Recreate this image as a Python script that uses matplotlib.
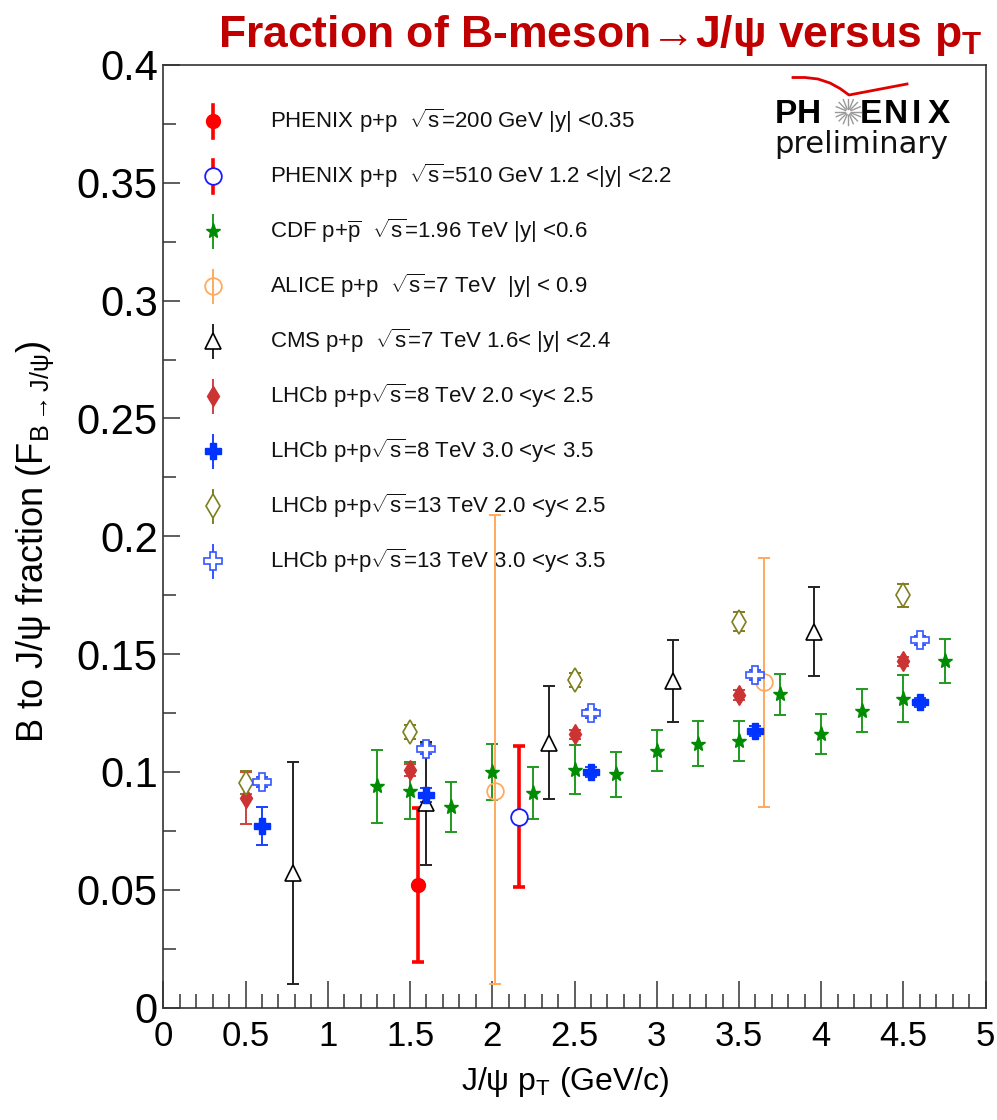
import numpy as np
import matplotlib
matplotlib.use('Agg')
import matplotlib.pyplot as plt
from matplotlib.lines import Line2D
from matplotlib.ticker import MultipleLocator, FuncFormatter

plt.rcParams['font.family'] = ['Liberation Sans', 'DejaVu Sans']
plt.rcParams['mathtext.fontset'] = 'custom'
plt.rcParams['mathtext.rm'] = 'Liberation Sans'
plt.rcParams['mathtext.it'] = 'Liberation Sans:italic'
plt.rcParams['mathtext.bf'] = 'Liberation Sans:bold'

# ---- data ----
phx200_pt = [1.55]
phx200_f = [0.052]
phx200_err = [0.0325]

phx510_pt = [2.165]
phx510_f = [0.081]
phx510_err = [0.030]

cdf_pt = [1.3, 1.5, 1.75, 2.0, 2.25, 2.5, 2.75, 3.0, 3.25, 3.5, 3.75, 4.0, 4.25, 4.5, 4.75]
cdf_f = [0.094, 0.092, 0.085, 0.100, 0.091, 0.101, 0.099, 0.109, 0.112, 0.113,
         0.133, 0.116, 0.126, 0.131, 0.147]
cdf_err = [0.0155, 0.012, 0.0107, 0.012, 0.011, 0.0105, 0.0095, 0.0086, 0.0095,
           0.0085, 0.0087, 0.0086, 0.009, 0.010, 0.0094]

alice_pt = [2.016, 3.652]
alice_f = [0.092, 0.138]
alice_lo = [0.082, 0.0527]
alice_hi = [0.117, 0.0527]

cms_pt = [0.786, 1.595, 2.345, 3.097, 3.958]
cms_f = [0.057, 0.0866, 0.1124, 0.1387, 0.1595]
cms_err = [0.047, 0.026, 0.024, 0.0174, 0.019]

lhcb8a_pt = [0.5, 1.5, 2.5, 3.5, 4.5]
lhcb8a_f = [0.0888, 0.1008, 0.1159, 0.1327, 0.1469]
lhcb8a_err = [0.011, 0.0025, 0.002, 0.002, 0.002]

lhcb8b_pt = [0.6, 1.6, 2.6, 3.6, 4.6]
lhcb8b_f = [0.0771, 0.0902, 0.1000, 0.1173, 0.1295]
lhcb8b_err = [0.008, 0.003, 0.002, 0.002, 0.002]

lhcb13a_pt = [0.5, 1.5, 2.5, 3.5, 4.5]
lhcb13a_f = [0.0955, 0.117, 0.1389, 0.1638, 0.1749]
lhcb13a_err = [0.005, 0.003, 0.003, 0.004, 0.005]

lhcb13b_pt = [0.6, 1.6, 2.6, 3.6, 4.6]
lhcb13b_f = [0.0958, 0.1098, 0.1248, 0.1411, 0.1558]
lhcb13b_err = [0.002, 0.002, 0.002, 0.002, 0.002]

labels = [
    r'PHENIX p+p  $\sqrt{\mathrm{s}}$=200 GeV |y| <0.35',
    r'PHENIX p+p  $\sqrt{\mathrm{s}}$=510 GeV 1.2 <|y| <2.2',
    r'CDF p+$\overline{\mathrm{p}}$  $\sqrt{\mathrm{s}}$=1.96 TeV |y| <0.6',
    r'ALICE p+p  $\sqrt{\mathrm{s}}$=7 TeV  |y| < 0.9',
    r'CMS p+p  $\sqrt{\mathrm{s}}$=7 TeV 1.6< |y| <2.4',
    r'LHCb p+p$\sqrt{\mathrm{s}}$=8 TeV 2.0 <y< 2.5',
    r'LHCb p+p$\sqrt{\mathrm{s}}$=8 TeV 3.0 <y< 3.5',
    r'LHCb p+p$\sqrt{\mathrm{s}}$=13 TeV 2.0 <y< 2.5',
    r'LHCb p+p$\sqrt{\mathrm{s}}$=13 TeV 3.0 <y< 3.5',
]

# series: x, y, [lo, hi], marker style, error colour, error width
series = [
    (phx200_pt, phx200_f, [phx200_err, phx200_err],
     dict(marker='o', ms=10, mfc='#ff0000', mec='#ff0000'), '#ff0000', 2.6),
    (phx510_pt, phx510_f, [phx510_err, phx510_err],
     dict(marker='o', ms=12, mfc='white', mec='#1a1aff', mew=1.3), '#ff0000', 2.6),
    (cdf_pt, cdf_f, [cdf_err, cdf_err],
     dict(marker='*', ms=11, mfc='#008c00', mec='#008c00'), '#1f9a1f', 1.4),
    (alice_pt, alice_f, [alice_lo, alice_hi],
     dict(marker='o', ms=12, mfc='none', mec='#ffaa5e', mew=1.3), '#ffaa5e', 1.4),
    (cms_pt, cms_f, [cms_err, cms_err],
     dict(marker='^', ms=12, mfc='white', mec='black', mew=1.2), '#222222', 1.4),
    (lhcb8a_pt, lhcb8a_f, [lhcb8a_err, lhcb8a_err],
     dict(marker='d', ms=10, mfc='#cc3333', mec='#cc3333'), '#d04040', 1.4),
    (lhcb8b_pt, lhcb8b_f, [lhcb8b_err, lhcb8b_err],
     dict(marker='P', ms=11, mfc='#0033ff', mec='#0033ff'), '#1a40ff', 1.4),
    (lhcb13a_pt, lhcb13a_f, [lhcb13a_err, lhcb13a_err],
     dict(marker='d', ms=12, mfc='white', mec='#7f7f1f', mew=1.2), '#7f7f1f', 1.4),
    (lhcb13b_pt, lhcb13b_f, [lhcb13b_err, lhcb13b_err],
     dict(marker='P', ms=13, mfc='white', mec='#3355ff', mew=1.2), '#3355ff', 1.4),
]

fig = plt.figure(figsize=(9.97, 11.2), dpi=100)
ax = fig.add_axes([0.1638, 0.1004, 0.8249, 0.8416])

for i, (x, y, err, mk, ecol, elw) in enumerate(series):
    ax.errorbar(x, y, yerr=err, fmt='none', ecolor=ecol, elinewidth=elw,
                capsize=4, capthick=elw, zorder=2 + i)
    ax.plot(x, y, linestyle='none', zorder=12 + i, **mk)

# legend drawn ROOT style (vertical bar through the marker, no caps)
for i, (x, y, err, mk, ecol, elw) in enumerate(series):
    yy = 0.9405 - i * 0.05836
    ax.plot([0.0604, 0.0604], [yy - 0.0175, yy + 0.0175], transform=ax.transAxes,
            color=ecol, lw=elw, zorder=30)
    ax.plot([0.0604], [yy], transform=ax.transAxes, linestyle='none', zorder=31, **mk)
    ax.text(0.1297, yy, labels[i], transform=ax.transAxes, va='center', ha='left',
            fontsize=16, color='#111111')

ax.set_xlim(0, 5)
ax.set_ylim(0, 0.4)
ax.xaxis.set_major_locator(MultipleLocator(0.5))
ax.xaxis.set_minor_locator(MultipleLocator(0.1))
ax.yaxis.set_major_locator(MultipleLocator(0.05))
ax.yaxis.set_minor_locator(MultipleLocator(0.025))
ax.xaxis.set_major_formatter(FuncFormatter(lambda v, p: '%g' % round(v, 3)))
ax.yaxis.set_major_formatter(FuncFormatter(lambda v, p: '%g' % round(v, 3)))
ax.tick_params(axis='x', which='major', direction='in', length=19.5, width=1.1,
               labelsize=25, pad=9, color='#333333')
ax.tick_params(axis='x', which='minor', direction='in', length=10, width=1.1, color='#333333')
ax.tick_params(axis='y', which='major', direction='in', length=12, width=1.1,
               labelsize=30, pad=4, color='#333333')
ax.tick_params(axis='y', which='minor', direction='in', length=9, width=1.1, color='#333333')
for sp in ax.spines.values():
    sp.set_linewidth(1.2)
    sp.set_color('#333333')

fig.text(35 / 997, 1 - 542 / 1120,
         r'B to J/ψ fraction (F$_{\mathrm{B\rightarrow J/\psi}}$)',
         rotation=90, ha='center', va='center', fontsize=26)
fig.text(565 / 997, 1 - 1090 / 1120, r'J/ψ p$_{\mathrm{T}}$ (GeV/c)',
         ha='center', va='baseline', fontsize=23)

# title
fig.text(218 / 997, 1 - 47 / 1120,
         r'Fraction of B-meson→J/ψ versus p$_{\mathbf{T}}$',
         ha='left', va='baseline', fontsize=32, fontweight='bold', color='#c00000')

# PHENIX preliminary logo
def fx(px):
    return px / 997

def fy(py):
    return 1 - py / 1120

logo_letters = ['P', 'H', 'E', 'N', 'I', 'X']
logo_xpos = [775, 797, 860, 884, 912, 928]
for ch, px in zip(logo_letters, logo_xpos):
    fig.text(fx(px), fy(123), ch, fontsize=24, fontweight='bold', va='baseline')
for a in np.linspace(0, 2 * np.pi, 16, endpoint=False):
    fig.add_artist(Line2D([fx(848.3 + 3 * np.cos(a)), fx(848.3 + 13 * np.cos(a))],
                          [fy(111.7 + 3 * np.sin(a)), fy(111.7 + 13 * np.sin(a))],
                          color='#999999', lw=1.0))
arc_x = [793, 805, 818, 830, 840, 849, 907]
arc_y = [77.5, 77.5, 79, 83, 88.5, 95, 84]
fig.add_artist(Line2D([fx(v) for v in arc_x], [fy(v) for v in arc_y],
                      color='#e00000', lw=2.0))
fig.text(fx(774), fy(153), 'preliminary', fontsize=22, family='DejaVu Sans',
         va='baseline', color='#111111')

fig.savefig('out.png', dpi=100)
